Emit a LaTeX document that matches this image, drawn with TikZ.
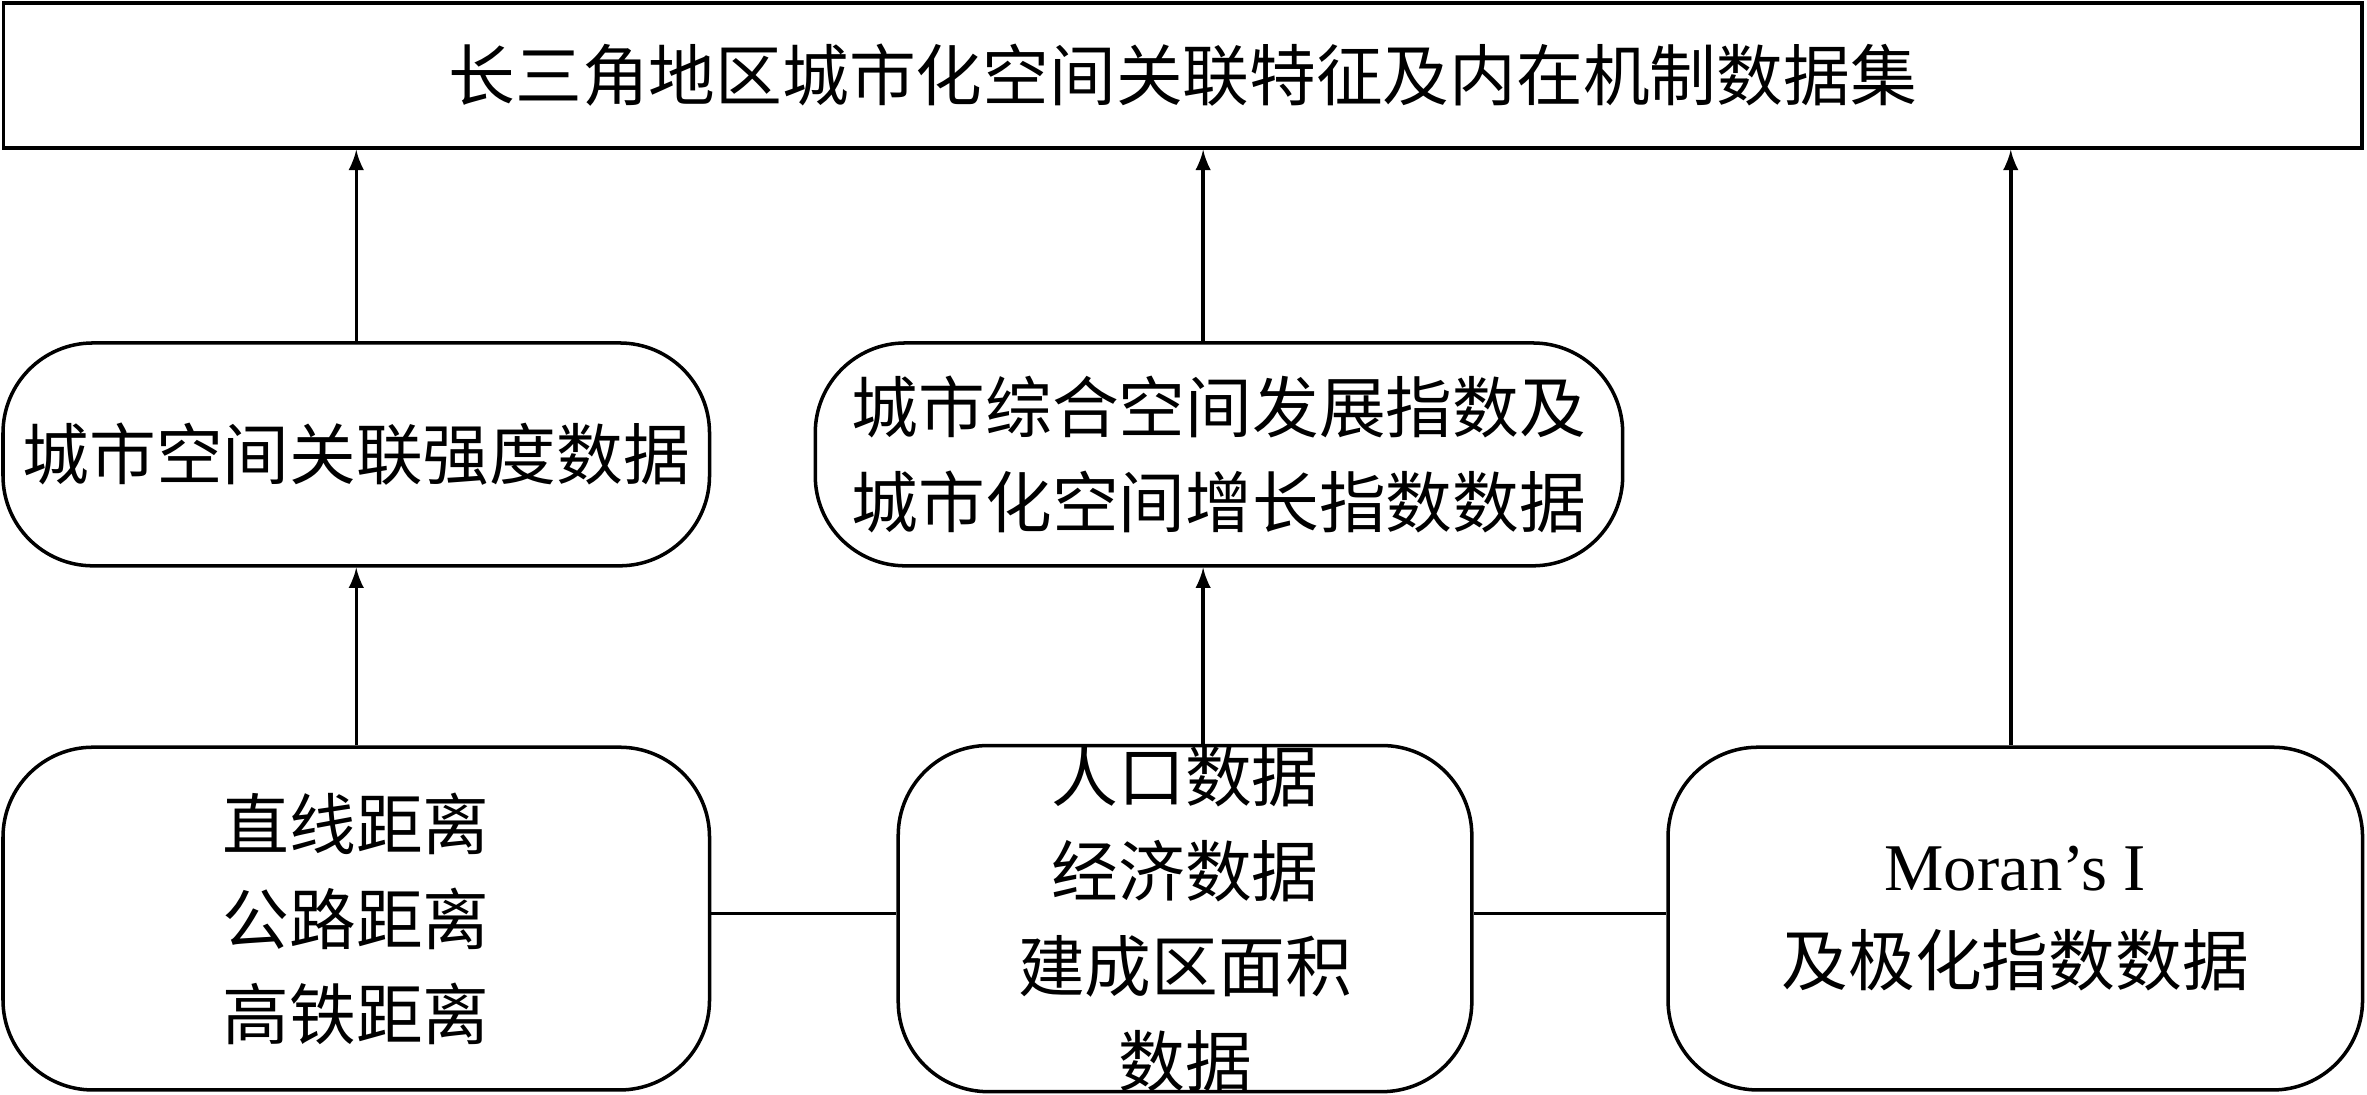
\documentclass[tikz,border=0pt]{standalone}
\usepackage{fontspec}
\setmainfont{Liberation Serif}
\newfontfamily\cjk{Noto Sans CJK SC}
\usetikzlibrary{positioning}
\begin{document}
\begin{tikzpicture}[x=0.0151cm, y=-0.0151cm, >=latex,
    box/.style={draw, line width=1pt, align=center, inner sep=0pt,
      font=\cjk\fontsize{19}{27}\selectfont},
    rbox/.style={box, rounded corners=9mm},
    link/.style={->, line width=1pt, shorten >=0pt}]
  \useasboundingbox (0,0) rectangle (1568,725);
  \node[box, minimum width=1563\pgflinewidth*0+23.6cm, minimum height=1.45cm]
    (data) at (783.5,50) {长三角地区城市化空间关联特征及内在机制数据集};

  \node[rbox, minimum width=7.07cm, minimum height=2.23cm] (strength) at (236,301)
    {城市空间关联强度数据};
  \node[rbox, minimum width=8.08cm, minimum height=2.23cm] (index) at (807.5,301)
    {城市综合空间发展指数及\\城市化空间增长指数数据};

  \node[rbox, minimum width=7.07cm, minimum height=3.43cm] (dist) at (236,608.5)
    {直线距离\\公路距离\\高铁距离};
  \node[rbox, minimum width=5.74cm, minimum height=3.43cm] (pop) at (785,608.5)
    {人口数据\\经济数据\\建成区面积\\数据};
  \node[rbox, minimum width=6.95cm, minimum height=3.43cm] (moran) at (1335,608.5)
    {{\rmfamily Moran’s I}\\及极化指数数据};

  \draw[link] (dist.north -| strength) -- (strength.south);
  \draw[link] (strength.north) -- (data.south -| strength);
  \draw[link] (pop.north -| 797,0) -- (index.south -| 797,0);
  \draw[link] (index.north -| 797,0) -- (data.south -| 797,0);
  \draw[link] (moran.north -| 1332,0) -- (data.south -| 1332,0);
  \draw[line width=1pt] (dist.east |- 0,605) -- (pop.west |- 0,605);
  \draw[line width=1pt] (pop.east |- 0,605) -- (moran.west |- 0,605);
\end{tikzpicture}
\end{document}
